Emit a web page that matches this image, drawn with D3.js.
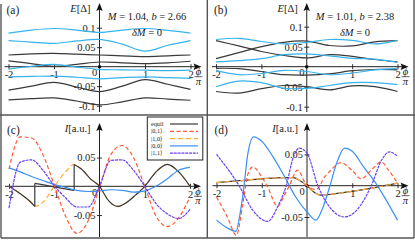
<!DOCTYPE html>
<html>
<head>
<meta charset="utf-8">
<script src="https://cdn.jsdelivr.net/npm/d3@7"></script>
<style>
body { margin: 0; background: #fff; }
svg text { font-family: "Liberation Serif", "Times New Roman", "DejaVu Serif", serif !important; fill: #222; }
</style>
</head>
<body>
<div id="host"></div>
<script>
// Layout constants
const width = 415;
const height = 242;

// Colours
const C_BLUE_E = "#38b3ec";
const C_BLACK = "#3a3a3a";
const C_RED = "#ff5a36";
const C_ORANGE = "#ffac3c";
const C_BLUE = "#3b8ff5";
const C_PURPLE = "#6a40f0";

// phi grid (units of pi) for the spectra
const phiHalf = [-2, -1.5, -1, -0.5, 0, 0.5, 1, 1.5, 2];

// Panel (a) energies [Delta]
const aBlue1 = [0.086, 0.094, 0.098, 0.094, 0.088, 0.094, 0.098, 0.093, 0.086];
const aBlue2 = [0.067, 0.063, 0.060, 0.066, 0.070, 0.058, 0.040, 0.055, 0.067];
const aBlack1 = [0.030, 0.033, 0.034, 0.032, 0.030, 0.028, 0.026, 0.028, 0.030];
const aBlack2 = [0.015, 0.008, 0.001, 0.006, 0.012, 0.010, 0.008, 0.010, 0.014];
const aBlue3 = [-0.006, 0.001, 0.006, -0.001, -0.007, -0.008, -0.009, -0.010, -0.009];
const aBlue4 = [-0.026, -0.025, -0.024, -0.027, -0.031, -0.028, -0.026, -0.028, -0.030];
const aBlack3 = [-0.060, -0.050, -0.040, -0.052, -0.064, -0.050, -0.033, -0.045, -0.058];
const aBlack4 = [-0.085, -0.082, -0.080, -0.088, -0.098, -0.090, -0.080, -0.083, -0.086];

// Panel (b) energies [Delta]
const bBlue1 = [0.068, 0.071, 0.063, 0.057, 0.061, 0.068, 0.066, 0.057, 0.066];
const bBlack1 = [0.065, 0.052, 0.038, 0.028, 0.022, 0.030, 0.026, 0.018, 0.012];
const bBlack2 = [0.020, 0.035, 0.050, 0.061, 0.064, 0.053, 0.052, 0.062, 0.065];
const bBlue2 = [0.012, 0.015, 0.020, 0.030, 0.032, 0.027, 0.021, 0.019, 0.011];
const bBlack3 = [-0.004, -0.005, -0.012, -0.020, -0.021, -0.018, -0.010, -0.007, -0.008];
const bBlue3 = [-0.010, -0.020, -0.017, -0.009, -0.012, -0.020, -0.016, -0.008, -0.004];
const bBlue4 = [-0.050, -0.036, -0.040, -0.054, -0.054, -0.047, -0.040, -0.040, -0.045];
const bBlack4 = [-0.062, -0.066, -0.055, -0.047, -0.050, -0.058, -0.048, -0.050, -0.062];

// Panel (c) currents [a.u.]
const phiQ = [-2, -1.75, -1.5, -1.25, -1, -0.75, -0.5, -0.25, 0, 0.25, 0.5, 0.75, 1, 1.25, 1.5, 1.75, 2];
const c01 = [0.030, 0.086, 0.084, 0.055, 0.002, -0.052, -0.082, -0.060, -0.002, 0.055, 0.071, 0.050, 0.000, -0.052, -0.070, -0.055, -0.018];
const c00 = [0.032, 0.025, 0.017, 0.010, 0.003, -0.002, -0.007, -0.009, -0.008, -0.006, -0.007, -0.010, -0.008, 0.000, 0.013, 0.028, 0.033];
const c11 = [-0.038, 0.042, 0.046, 0.028, 0.001, -0.020, -0.036, -0.036, 0.000, 0.045, 0.046, 0.028, 0.000, -0.030, -0.048, -0.056, -0.040];
const c10Phi = [-2, -1.75, -1.5, -1.43, -1.25, -1, -0.75, -0.56, -0.4, -0.2, 0, 0.2, 0.4, 0.6, 0.8, 1, 1.25, 1.5, 1.75, 2];
const c10 = [0.000, -0.013, -0.029, -0.035, -0.028, 0.000, 0.025, 0.038, 0.030, 0.013, 0.000, -0.025, -0.035, -0.028, -0.015, 0.000, 0.025, 0.038, 0.025, 0.000];
// equilibrium current: three branches with jumps
const cEqPhi1 = [-2, -1.75, -1.5, -1.43];
const cEq1 = [0.000, -0.013, -0.029, -0.035];
const cEqPhi2 = [-1.43, -1.2, -1, -0.8, -0.56];
const cEq2 = [0.005, 0.002, -0.001, -0.004, -0.007];
const cEqPhi3 = [-0.56, -0.4, -0.2, 0, 0.2, 0.4, 0.6, 0.8, 1, 1.25, 1.5, 1.75, 2];
const cEq3 = [0.038, 0.030, 0.013, 0.000, -0.025, -0.035, -0.028, -0.015, 0.000, 0.025, 0.038, 0.025, 0.000];

// Panel (d) currents [a.u.]
const dBluePhi = [-2, -1.75, -1.57, -1.48, -1.39, -1.31, -1.18, -1, -0.75, -0.5, -0.25, 0, 0.2, 0.35, 0.5, 0.65, 0.83, 1, 1.25, 1.5, 1.75, 2];
const dBlue = [-0.055, -0.068, -0.073, -0.045, 0.000, 0.050, 0.078, 0.071, 0.046, 0.015, -0.018, -0.042, -0.055, -0.035, -0.002, 0.035, 0.060, 0.055, 0.030, 0.006, -0.023, -0.055];
const dPurplePhi = [-2, -1.5, -1.2, -0.87, -0.65, -0.46, -0.3, -0.17, 0, 0.24, 0.5, 0.83, 1.1, 1.42, 1.65, 1.82, 2];
const dPurple = [0.050, 0.000, -0.039, -0.057, -0.034, 0.000, 0.046, 0.060, 0.052, 0.000, -0.034, -0.050, -0.039, 0.000, 0.041, 0.054, 0.047];
const dRedPhi = [-2, -1.76, -1.56, -1.42, -1.3, -1.2, -1, -0.87, -0.65, -0.5, -0.39, -0.21, 0, 0.2, 0.4, 0.53, 0.75, 1, 1.2, 1.42, 1.64, 1.8, 2];
const dRed = [-0.018, -0.050, -0.079, -0.030, 0.020, 0.030, 0.014, -0.002, -0.033, -0.015, 0.000, 0.025, 0.000, -0.006, 0.015, 0.025, 0.037, 0.024, 0.011, 0.025, 0.038, 0.025, 0.004];
const dEqPhi = [-2, -1.5, -1, -0.5, -0.3, -0.15, 0, 0.15, 0.3, 0.6, 1, 1.5, 2];
const dEq = [0.005, 0.008, 0.011, 0.013, 0.013, 0.008, 0.000, -0.010, -0.015, -0.013, -0.009, -0.003, 0.004];

// Ticks and legend
const xTicks = [-2, -1, 1, 2];
const yTicksE = [0.1, 0.05, -0.05, -0.1];
const yTicksI = [0.05, -0.05];
const legendLabels = ["equil", "|0,1\u27e9", "|1,0\u27e9", "|0,0\u27e9", "|1,1\u27e9"];

const zip = (phi, v) => phi.map((p, i) => [p, v[i]]);

const svg = d3.select("#host").append("svg")
    .attr("width", width)
    .attr("height", height);

/** Axes, ticks, arrows and labels of one panel; returns scales. */
function drawAxes(p) {
    const g = svg.append("g");
    const x = d3.scaleLinear().domain([-2, 2]).range(p.xr);
    const y = d3.scaleLinear().domain([0, 0.1]).range([p.y0, p.y0 - p.k * 0.1]);
    const ax = x(0);

    // x axis
    const xa = g.append("g").attr("transform", `translate(0,${p.y0})`)
        .call(d3.axisBottom(x).tickValues(xTicks).tickSize(2.5).tickPadding(1.5)
            .tickFormat(d => String(d)));
    xa.select(".domain").remove();
    xa.selectAll("line").attr("y1", -2.5).attr("stroke", "#333");
    xa.selectAll("text").attr("font-size", 10.5).attr("fill", "#333");

    // y axis
    const ya = g.append("g").attr("transform", `translate(${ax},0)`)
        .call(d3.axisLeft(y).tickValues(p.yTicks).tickSize(2.5).tickPadding(1.5)
            .tickFormat(d => String(d)));
    ya.select(".domain").remove();
    ya.selectAll("line").attr("x1", 2.5).attr("stroke", "#333");
    ya.selectAll("text").attr("font-size", 10.5).attr("fill", "#333");

    // axis lines with arrows
    g.append("line").attr("x1", p.xr[0] - 4).attr("x2", p.xr[1] + 6)
        .attr("y1", p.y0).attr("y2", p.y0).attr("stroke", "#222").attr("stroke-width", 1);
    g.append("line").attr("x1", ax).attr("x2", ax)
        .attr("y1", p.yBot).attr("y2", p.yTop + 5).attr("stroke", "#222").attr("stroke-width", 1);
    const xe = p.xr[1] + 11;
    g.append("path").attr("d", `M${xe},${p.y0}L${xe - 8},${p.y0 - 3.2}L${xe - 6.5},${p.y0}L${xe - 8},${p.y0 + 3.2}Z`)
        .attr("fill", "#111");
    g.append("path").attr("d", `M${ax},${p.yTop}L${ax - 3.2},${p.yTop + 8}L${ax},${p.yTop + 6.5}L${ax + 3.2},${p.yTop + 8}Z`)
        .attr("fill", "#111");

    // origin label and dot
    g.append("text").attr("x", ax - 5).attr("y", p.y0 + 9.5)
        .attr("text-anchor", "middle").attr("font-size", 10.5).attr("fill", "#333").text("0");
    g.append("circle").attr("cx", ax).attr("cy", p.y0).attr("r", 1.8).attr("fill", "#111");

    // phi / pi label
    const fx = p.xr[1] + 8;
    g.append("text").attr("x", fx).attr("y", p.y0 + 8.5).attr("text-anchor", "middle")
        .attr("font-size", 10.5).attr("font-style", "italic").text("\u03d5");
    g.append("line").attr("x1", fx - 4).attr("x2", fx + 4)
        .attr("y1", p.y0 + 10).attr("y2", p.y0 + 10).attr("stroke", "#222").attr("stroke-width", 0.7);
    g.append("text").attr("x", fx).attr("y", p.y0 + 18).attr("text-anchor", "middle")
        .attr("font-size", 10.5).attr("font-style", "italic").text("\u03c0");

    // y label
    const yl = g.append("text").attr("x", ax - 9).attr("y", p.yTop + 9)
        .attr("text-anchor", "end").attr("font-size", 10.5);
    yl.append("tspan").attr("font-style", "italic").text(p.yLabel[0]);
    yl.append("tspan").text(p.yLabel[1]);

    // panel tag
    g.append("text").attr("x", p.xr[0] - 2).attr("y", p.yTop + 11)
        .attr("font-size", 11.5).text(p.tag);

    return {x, y};
}

function drawCurve(s, pts, color, dash, w) {
    const line = d3.line().x(d => s.x(d[0])).y(d => s.y(d[1])).curve(d3.curveMonotoneX);
    svg.append("path").datum(pts)
        .attr("d", line)
        .attr("fill", "none")
        .attr("stroke", color)
        .attr("stroke-width", w || 1.2)
        .attr("stroke-dasharray", dash || null);
}

function drawSmooth(s, pts, color) {
    const line = d3.line().x(d => s.x(d[0])).y(d => s.y(d[1])).curve(d3.curveCatmullRom.alpha(0.5));
    svg.append("path").datum(pts)
        .attr("d", line)
        .attr("fill", "none")
        .attr("stroke", color)
        .attr("stroke-width", 1.2);
}

function annotate(cx, params) {
    const t1 = svg.append("text").attr("x", cx).attr("y", 20).attr("text-anchor", "middle").attr("font-size", 10.5);
    t1.append("tspan").attr("font-style", "italic").text("M");
    t1.append("tspan").text(` = ${params[0]}, `);
    t1.append("tspan").attr("font-style", "italic").text("b");
    t1.append("tspan").text(` = ${params[1]}`);
    const t2 = svg.append("text").attr("x", cx).attr("y", 36).attr("text-anchor", "middle").attr("font-size", 10.5);
    t2.append("tspan").attr("font-style", "italic").text("\u03b4M");
    t2.append("tspan").text(" = 0");
}

// Panel frame
const frame = svg.append("g").attr("stroke", "#555").attr("stroke-width", 1.4).attr("fill", "none");
frame.append("line").attr("x1", 1).attr("x2", 1).attr("y1", 4).attr("y2", 238);
frame.append("line").attr("x1", 414).attr("x2", 414).attr("y1", 0).attr("y2", 238);
frame.append("line").attr("x1", 207.3).attr("x2", 207.3).attr("y1", 0).attr("y2", 238);
frame.append("line").attr("x1", 0).attr("x2", 415).attr("y1", 115).attr("y2", 115);
frame.append("line").attr("x1", 1).attr("x2", 414).attr("y1", 238).attr("y2", 238);

// (a)
const sa = drawAxes({xr: [8.5, 190.5], y0: 66.7, k: 390, yTop: 3, yBot: 112,
    yTicks: yTicksE, yLabel: ["E", "[\u0394]"], tag: "(a)"});
[aBlack1, aBlack2, aBlack3, aBlack4].forEach(v => drawSmooth(sa, zip(phiHalf, v), C_BLACK));
[aBlue1, aBlue2, aBlue3, aBlue4].forEach(v => drawSmooth(sa, zip(phiHalf, v), C_BLUE_E));
annotate(147, ["1.04", "2.66"]);

// (b)
const sb = drawAxes({xr: [216, 397.5], y0: 66.7, k: 400, yTop: 3, yBot: 112,
    yTicks: yTicksE, yLabel: ["E", "[\u0394]"], tag: "(b)"});
[bBlack1, bBlack2, bBlack3, bBlack4].forEach(v => drawSmooth(sb, zip(phiHalf, v), C_BLACK));
[bBlue1, bBlue2, bBlue3, bBlue4].forEach(v => drawSmooth(sb, zip(phiHalf, v), C_BLUE_E));
annotate(355, ["1.01", "2.38"]);

// (c)
const sc = drawAxes({xr: [9, 190], y0: 186.3, k: 575, yTop: 123, yBot: 237,
    yTicks: yTicksI, yLabel: ["I", "[a.u.]"], tag: "(c)"});
drawCurve(sc, zip(c10Phi, c10), C_ORANGE, "5,3");
drawCurve(sc, zip(cEqPhi1, cEq1), C_BLACK);
drawCurve(sc, zip(cEqPhi2, cEq2), C_BLACK);
drawCurve(sc, zip(cEqPhi3, cEq3), C_BLACK);
// jumps of the equilibrium current
svg.append("line").attr("x1", sc.x(-1.43)).attr("x2", sc.x(-1.43))
    .attr("y1", sc.y(cEq1[3])).attr("y2", sc.y(cEq2[0])).attr("stroke", C_BLACK).attr("stroke-width", 1.2);
svg.append("line").attr("x1", sc.x(-0.56)).attr("x2", sc.x(-0.56))
    .attr("y1", sc.y(cEq2[4])).attr("y2", sc.y(cEq3[0])).attr("stroke", C_BLACK).attr("stroke-width", 1.2);
drawSmooth(sc, zip(phiQ, c00), C_BLUE);
drawCurve(sc, zip(phiQ, c01), C_RED, "4,2.5");
drawCurve(sc, zip(phiQ, c11), C_PURPLE, "3,0.8");

// (d)
const sd = drawAxes({xr: [216.5, 397.5], y0: 185.7, k: 626, yTop: 123, yBot: 237,
    yTicks: yTicksI, yLabel: ["I", "[a.u.]"], tag: "(d)"});
drawCurve(sd, zip(dEqPhi, dEq), C_BLACK);
drawCurve(sd, zip(dEqPhi, dEq), C_ORANGE, "5,3");
drawCurve(sd, zip(dBluePhi, dBlue), C_BLUE);
drawCurve(sd, zip(dRedPhi, dRed), C_RED, "4,2.5");
drawCurve(sd, zip(dPurplePhi, dPurple), C_PURPLE, "3,0.8");

// Legend in (c)
const lg = svg.append("g");
lg.append("rect").attr("x", 147.3).attr("y", 117).attr("width", 55.5).attr("height", 43)
    .attr("fill", "#fff").attr("stroke", "#222").attr("stroke-width", 1);
const legendStyles = [[C_BLACK, null], [C_RED, "4,2.5"], [C_ORANGE, "5,3"], [C_BLUE, null], [C_PURPLE, "3,0.8"]];
legendLabels.forEach((lab, i) => {
    const yy = 124 + i * 7.3;
    lg.append("text").attr("x", 151).attr("y", yy + 2).attr("font-size", 6.2).text(lab);
    lg.append("line").attr("x1", 170).attr("x2", 198).attr("y1", yy).attr("y2", yy)
        .attr("stroke", legendStyles[i][0]).attr("stroke-width", 1.2)
        .attr("stroke-dasharray", legendStyles[i][1]);
});
</script>
</body>
</html>
